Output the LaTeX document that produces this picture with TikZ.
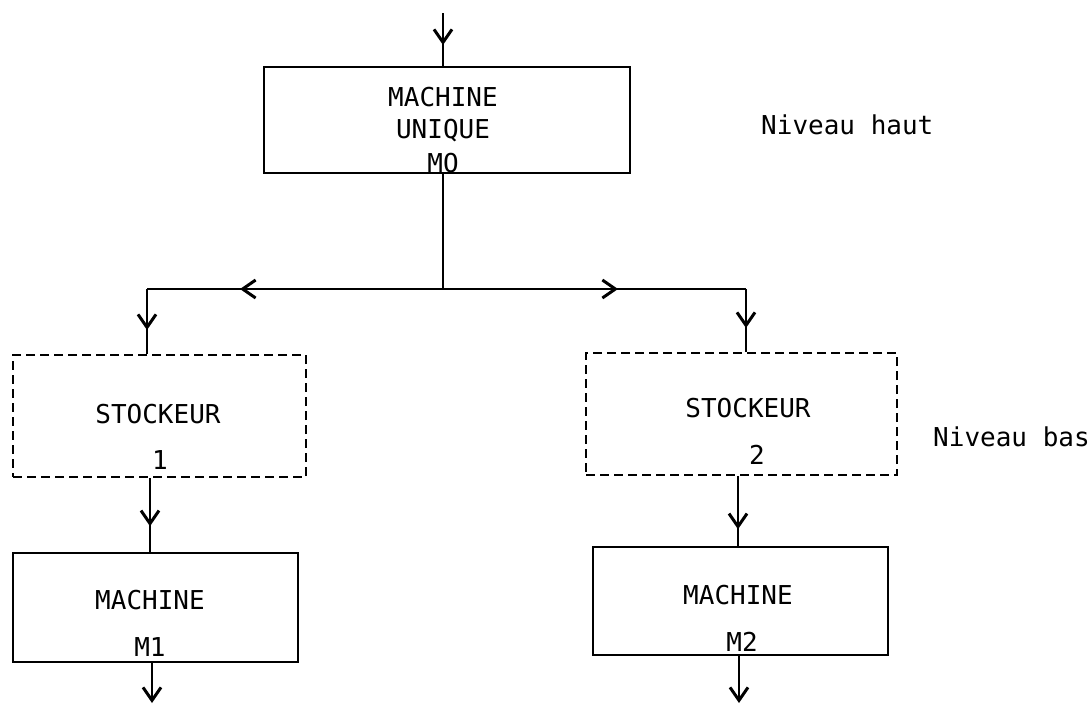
\documentclass[tikz,border=0pt]{standalone}
\usepackage{fontspec}
\setmonofont{DejaVu Sans Mono}
\usetikzlibrary{arrows.meta,decorations.markings}
\tikzset{
  vtip/.tip={Straight Barb[length=13pt,width=18pt,line width=3pt]},
  box/.style={draw,line width=2.4pt,inner sep=0pt},
  dbox/.style={draw,line width=2.4pt,inner sep=0pt,dash pattern=on 9pt off 5pt},
  txt/.style={inner sep=0pt,font=\ttfamily\fontsize{26}{30}\selectfont},
  wire/.style={line width=2.8pt},
  markat/.style={postaction={decorate},decoration={markings,mark=at position #1 with {\arrow{vtip}}}}
}
\begin{document}
\begin{tikzpicture}[x=1pt,y=-1pt]
\useasboundingbox (0,0) rectangle (1092,705);
% boxes
\node[box,minimum width=366pt,minimum height=106pt] (m0) at (447,120) {};
\node[dbox,minimum width=293pt,minimum height=122pt] (s1) at (159.5,416) {};
\node[box,minimum width=285pt,minimum height=109pt] (m1) at (155.5,607.5) {};
\node[dbox,minimum width=311pt,minimum height=122pt] (s2) at (741.5,414) {};
\node[box,minimum width=295pt,minimum height=108pt] (m2) at (740.5,601) {};
% texts
\node[txt] (t0a) at (443,97) {MACHINE};
\node[txt] (t0b) at (443,131) {UNIQUE};
\node[txt] (t0c) at (443,163) {MO};
\node[txt] (t1a) at (158,414) {STOCKEUR};
\node[txt] (t1b) at (160,460) {1};
\node[txt] (t2a) at (150,600) {MACHINE};
\node[txt] (t2b) at (150,647) {M1};
\node[txt] (t3a) at (748,408) {STOCKEUR};
\node[txt] (t3b) at (757,455) {2};
\node[txt] (t4a) at (738,595) {MACHINE};
\node[txt] (t4b) at (742,642) {M2};
\node[txt,anchor=west] (nh) at (761,125) {Niveau haut};
\node[txt,anchor=west] (nb) at (933,437) {Niveau bas};
% coordinates
\coordinate (in) at (443,13);
\coordinate (j) at (443,289);
\coordinate (jl) at (147,289);
\coordinate (jr) at (746,289);
\coordinate (a1) at (150,0);
\coordinate (a2) at (738,0);
\coordinate (o1) at (152,703);
\coordinate (o2) at (739,703);
% connectors
\draw[wire,markat=32pt] (in) -- (in |- m0.north);
\draw[wire] (m0.south -| j) -- (j);
\draw[wire,markat=203pt] (j) -- (jl);
\draw[wire,markat=175pt] (j) -- (jr);
\draw[wire,markat=41pt] (jl) -- (jl |- s1.north);
\draw[wire,markat=39pt] (jr) -- (jr |- s2.north);
\draw[wire,markat=48pt] (a1 |- s1.south) -- (a1 |- m1.north);
\draw[wire,markat=53pt] (a2 |- s2.south) -- (a2 |- m2.north);
\draw[wire,-vtip] (o1 |- m1.south) -- (o1);
\draw[wire,-vtip] (o2 |- m2.south) -- (o2);
\end{tikzpicture}
\end{document}
